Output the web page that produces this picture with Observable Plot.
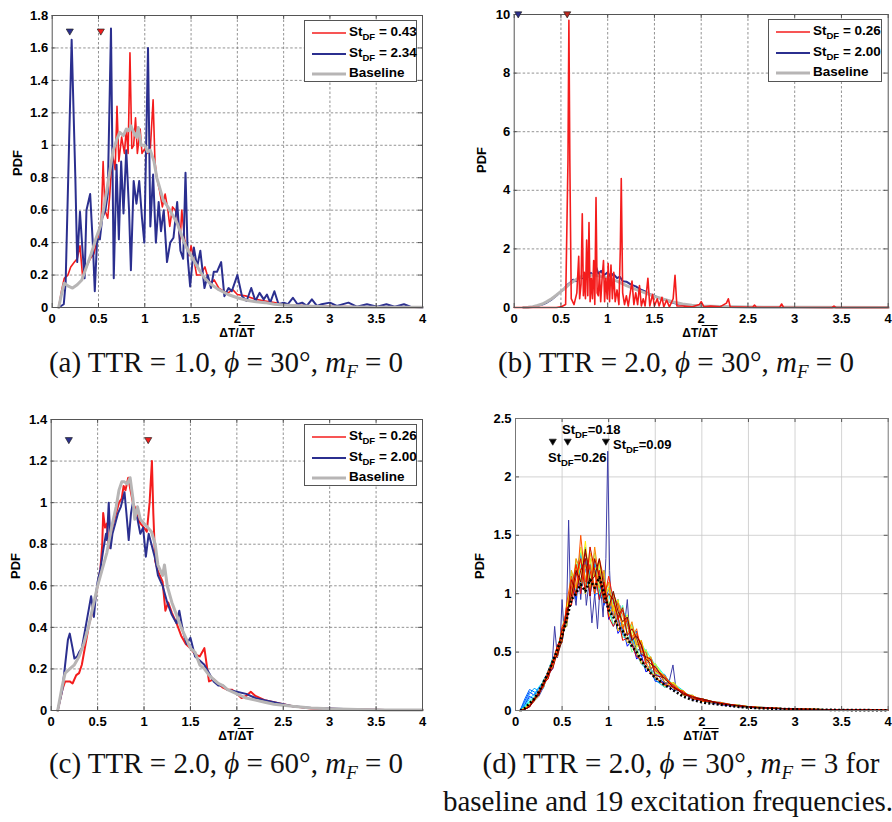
<!DOCTYPE html>
<html>
<head>
<meta charset="utf-8">
<script src="https://cdn.jsdelivr.net/npm/d3@7"></script>
<script src="https://cdn.jsdelivr.net/npm/@observablehq/plot@0.6"></script>
<style>
  html, body { margin: 0; padding: 0; background: #fff; }
  #wrap { position: relative; width: 892px; height: 822px; overflow: hidden; background: #fff; }
  .pnl { position: absolute; }
  .ov { position: absolute; font-family: "Liberation Sans", Arial, sans-serif; font-weight: bold; color: #000; white-space: nowrap; }
  .ylab { font-size: 13px; transform: translate(-50%, -50%) rotate(-90deg); }
  .xlab { font-size: 12px; transform: translate(-50%, -50%); }
  .ol { text-decoration: overline; }
  .leg { position: absolute; border: 1px solid #555; background: #fff; box-sizing: border-box; }
  .row { position: absolute; left: 0; height: 20px; width: 100%; }
  .row svg { position: absolute; left: 7px; top: 8px; }
  .row .t { position: absolute; left: 44px; top: 0; font-family: "Liberation Sans", Arial, sans-serif; font-weight: bold; font-size: 13.5px; line-height: 20px; white-space: nowrap; }
  sub { font-size: 9.5px; vertical-align: -4px; line-height: 0; }
  .cap { position: absolute; font-family: "Liberation Serif", "Times New Roman", serif; font-size: 29px; color: #111; white-space: nowrap; transform: translate(-50%, -50%); }
  .cap sub { font-size: 19px; vertical-align: -6px; }
  .ann { position: absolute; font-family: "Liberation Sans", Arial, sans-serif; font-weight: bold; font-size: 13px; white-space: nowrap; }
  .ann sub { font-size: 9.5px; vertical-align: -4px; }
</style>
</head>
<body>
<div id="wrap"></div>
<script>
// ---------------- data ----------------
const xTicks = [0, 0.5, 1, 1.5, 2, 2.5, 3, 3.5, 4];
const aYTicks = [0, 0.2, 0.4, 0.6, 0.8, 1, 1.2, 1.4, 1.6, 1.8];
const bYTicks = [0, 2, 4, 6, 8, 10];
const cYTicks = [0, 0.2, 0.4, 0.6, 0.8, 1, 1.2, 1.4];
const dYTicks = [0, 0.5, 1, 1.5, 2, 2.5];

// (a) TTR = 1.0, phi = 30
const aRed = [[0.07,0],[0.1,0.1],[0.13,0.18],[0.17,0.2],[0.2,0.25],[0.24,0.28],[0.27,0.3],[0.3,0.38],[0.33,0.18],[0.37,0.25],[0.41,0.3],[0.45,0.33],[0.5,0.45],[0.53,0.55],[0.55,0.9],[0.57,0.6],[0.6,0.55],[0.62,0.68],[0.65,0.95],[0.68,0.85],[0.7,1.24],[0.72,0.9],[0.75,1.05],[0.78,0.95],[0.8,1.1],[0.82,0.95],[0.84,1.57],[0.86,0.98],[0.88,1.0],[0.9,1.17],[0.92,0.95],[0.95,1.1],[0.97,0.95],[1.0,0.98],[1.03,0.95],[1.06,0.98],[1.09,1.28],[1.11,0.9],[1.13,0.8],[1.16,0.72],[1.19,0.62],[1.22,0.7],[1.25,0.6],[1.27,0.5],[1.3,0.62],[1.33,0.6],[1.36,0.55],[1.38,0.4],[1.4,0.6],[1.43,0.42],[1.45,0.38],[1.48,0.32],[1.5,0.38],[1.53,0.3],[1.56,0.2],[1.6,0.2],[1.65,0.25],[1.7,0.15],[1.75,0.17],[1.8,0.12],[1.85,0.1],[1.9,0.09],[1.95,0.11],[2.0,0.08],[2.1,0.07],[2.2,0.05],[2.3,0.04],[2.4,0.03],[2.5,0.02],[2.6,0.015],[2.8,0.01],[3.0,0.008],[3.3,0.005],[3.6,0.003],[4.0,0.001]];
const aBlue = [[0.07,0],[0.125,0.02],[0.145,0.15],[0.21,1.65],[0.25,0.8],[0.27,0.28],[0.3,0.59],[0.33,0.33],[0.35,0.18],[0.37,0.6],[0.41,0.7],[0.44,0.38],[0.46,0.1],[0.485,0.42],[0.515,0.42],[0.54,0.55],[0.575,0.6],[0.6,0.7],[0.635,1.72],[0.665,0.18],[0.695,0.88],[0.72,0.42],[0.745,0.9],[0.77,0.58],[0.8,0.97],[0.83,0.6],[0.85,0.23],[0.88,0.78],[0.91,0.64],[0.94,0.78],[0.97,0.55],[0.995,0.4],[1.035,1.6],[1.06,0.5],[1.09,0.82],[1.12,0.4],[1.15,0.65],[1.175,0.47],[1.205,0.6],[1.24,0.28],[1.275,0.4],[1.31,0.43],[1.35,0.65],[1.385,0.35],[1.415,0.3],[1.44,0.83],[1.465,0.3],[1.49,0.13],[1.53,0.37],[1.565,0.25],[1.6,0.35],[1.645,0.12],[1.68,0.2],[1.715,0.12],[1.745,0.22],[1.78,0.22],[1.825,0.28],[1.86,0.07],[1.905,0.12],[1.94,0.1],[2.0,0.2],[2.05,0.07],[2.1,0.04],[2.15,0.12],[2.195,0.04],[2.24,0.09],[2.285,0.05],[2.32,0.08],[2.355,0.03],[2.4,0.1],[2.445,0.02],[2.5,0.03],[2.545,0.02],[2.6,0.06],[2.65,0.02],[2.7,0.03],[2.75,0.01],[2.805,0.05],[2.86,0.01],[2.91,0.02],[3.0,0.03],[3.075,0.01],[3.2,0.03],[3.29,0.005],[3.4,0.02],[3.51,0.005],[3.61,0.02],[3.7,0.005],[3.8,0.02],[3.87,0.005],[4.0,0]];
const aBase = [[0.07,0],[0.1,0.08],[0.13,0.15],[0.18,0.13],[0.22,0.12],[0.27,0.14],[0.32,0.17],[0.37,0.25],[0.42,0.33],[0.47,0.42],[0.52,0.5],[0.56,0.62],[0.6,0.76],[0.63,0.87],[0.66,0.97],[0.7,1.04],[0.73,1.08],[0.77,1.06],[0.8,1.1],[0.83,1.09],[0.85,1.12],[0.88,1.08],[0.91,1.05],[0.93,1.11],[0.96,1.0],[1.0,1.0],[1.03,0.96],[1.06,0.97],[1.1,0.9],[1.13,0.8],[1.17,0.72],[1.2,0.66],[1.25,0.62],[1.3,0.57],[1.35,0.52],[1.4,0.44],[1.45,0.37],[1.5,0.32],[1.55,0.27],[1.6,0.22],[1.65,0.18],[1.7,0.15],[1.8,0.11],[1.9,0.08],[2.0,0.06],[2.1,0.045],[2.2,0.035],[2.3,0.03],[2.4,0.02],[2.5,0.015],[2.7,0.01],[3.0,0.005],[3.5,0.002],[4.0,0.001]];
const aTriBlue = [[0.19, 1.70]];
const aTriRed = [[0.525, 1.70]];

// (b) TTR = 2.0, phi = 30
const bRed = [[0,0],[0.45,0],[0.5,0.02],[0.55,0.1],[0.575,5],[0.585,9.8],[0.595,5],[0.61,0.3],[0.64,0.1],[0.67,0.5],[0.69,1.75],[0.7,0.3],[0.715,0.8],[0.728,3.2],[0.74,0.4],[0.75,1.2],[0.762,0.3],[0.775,2.3],[0.787,0.4],[0.8,2.9],[0.812,0.2],[0.825,1.0],[0.837,0.3],[0.85,1.6],[0.862,0.1],[0.875,3.75],[0.887,0.5],[0.9,0.4],[0.912,1.2],[0.925,0.2],[0.94,1.0],[0.955,1.6],[0.967,0.2],[0.98,1.0],[0.995,0.3],[1.005,1.5],[1.02,0.2],[1.035,1.45],[1.05,0.3],[1.065,1.2],[1.08,0.2],[1.1,0.6],[1.12,0.1],[1.135,2.0],[1.145,4.4],[1.16,0.5],[1.18,0.1],[1.2,0.4],[1.22,0.05],[1.26,0.9],[1.28,0.1],[1.3,0.5],[1.32,0.1],[1.34,0.75],[1.36,0.05],[1.38,0.3],[1.4,0.05],[1.43,1.0],[1.45,0.05],[1.48,0.45],[1.5,0.05],[1.53,0.3],[1.55,0.05],[1.58,0.35],[1.6,0.02],[1.63,0.25],[1.66,0.02],[1.7,0.3],[1.72,1.1],[1.74,0.05],[1.8,0.05],[1.9,0.02],[1.98,0.1],[2.0,0.2],[2.03,0.02],[2.1,0.05],[2.2,0.02],[2.27,0.15],[2.29,0.3],[2.31,0.02],[2.55,0.01],[2.57,0.08],[2.59,0.01],[2.84,0.01],[2.86,0.12],[2.88,0.01],[3.4,0],[3.42,0.05],[3.44,0],[4,0]];
const bBlue = [[0.1,0],[0.15,0.01],[0.2,0.03],[0.25,0.06],[0.3,0.1],[0.35,0.17],[0.4,0.27],[0.45,0.4],[0.5,0.55],[0.53,0.62],[0.56,0.75],[0.6,0.85],[0.63,0.95],[0.66,0.9],[0.7,1.05],[0.73,1.0],[0.76,1.12],[0.79,1.05],[0.82,1.18],[0.85,1.1],[0.88,1.35],[0.9,1.15],[0.93,1.25],[0.96,1.1],[1.0,1.2],[1.03,1.05],[1.06,1.15],[1.1,1.0],[1.13,1.05],[1.16,0.9],[1.2,0.88],[1.25,0.78],[1.3,0.72],[1.35,0.62],[1.4,0.55],[1.45,0.45],[1.5,0.4],[1.55,0.32],[1.6,0.27],[1.65,0.22],[1.7,0.16],[1.75,0.12],[1.8,0.09],[1.9,0.06],[2.0,0.04],[2.1,0.03],[2.3,0.02],[2.6,0.01],[3,0.005],[4,0]];
const bBase = [[0.1,0],[0.15,0.01],[0.2,0.03],[0.25,0.07],[0.3,0.12],[0.35,0.2],[0.4,0.3],[0.45,0.42],[0.5,0.55],[0.55,0.68],[0.6,0.82],[0.65,0.93],[0.7,1.02],[0.75,1.1],[0.8,1.08],[0.85,1.12],[0.9,1.08],[0.95,1.05],[1.0,1.0],[1.05,0.95],[1.1,0.9],[1.15,0.82],[1.2,0.75],[1.3,0.62],[1.4,0.5],[1.5,0.38],[1.6,0.28],[1.7,0.19],[1.8,0.12],[1.9,0.08],[2.0,0.05],[2.2,0.03],[2.5,0.015],[3,0.005],[4,0]];
const bTriBlue = [[0.043, 10]];
const bTriRed = [[0.567, 10]];

// (c) TTR = 2.0, phi = 60
const cRed = [[0.07,0],[0.12,0.1],[0.15,0.14],[0.2,0.14],[0.23,0.13],[0.27,0.17],[0.3,0.18],[0.33,0.22],[0.37,0.32],[0.41,0.42],[0.45,0.48],[0.5,0.6],[0.53,0.68],[0.55,0.8],[0.56,0.95],[0.58,0.88],[0.6,0.9],[0.62,0.78],[0.65,0.86],[0.67,0.9],[0.7,0.95],[0.73,1.0],[0.76,1.02],[0.78,1.08],[0.8,1.06],[0.83,1.12],[0.85,1.07],[0.88,1.0],[0.9,0.98],[0.93,0.93],[0.96,0.9],[1.0,0.88],[1.03,0.86],[1.06,1.0],[1.085,1.2],[1.1,0.95],[1.12,0.72],[1.15,0.67],[1.2,0.62],[1.23,0.48],[1.26,0.52],[1.3,0.47],[1.35,0.42],[1.4,0.36],[1.45,0.32],[1.5,0.3],[1.55,0.27],[1.6,0.26],[1.65,0.3],[1.7,0.14],[1.75,0.15],[1.8,0.13],[1.85,0.11],[1.9,0.1],[1.95,0.1],[2.0,0.08],[2.05,0.06],[2.1,0.07],[2.15,0.09],[2.2,0.07],[2.3,0.05],[2.4,0.04],[2.5,0.03],[2.6,0.02],[2.8,0.01],[3.0,0.008],[3.3,0.005],[3.6,0.003],[4,0.002]];
const cBlue = [[0.07,0],[0.12,0.1],[0.15,0.22],[0.18,0.34],[0.2,0.37],[0.23,0.3],[0.25,0.25],[0.28,0.26],[0.3,0.28],[0.33,0.3],[0.37,0.4],[0.41,0.5],[0.43,0.55],[0.46,0.45],[0.48,0.55],[0.5,0.62],[0.53,0.68],[0.56,0.77],[0.59,0.85],[0.6,0.82],[0.62,1.0],[0.64,0.78],[0.66,0.85],[0.69,0.9],[0.72,0.95],[0.75,0.98],[0.79,1.05],[0.81,0.95],[0.835,0.82],[0.86,0.95],[0.88,1.0],[0.9,0.96],[0.93,0.92],[0.96,0.85],[0.99,0.88],[1.02,0.74],[1.05,0.85],[1.08,0.8],[1.12,0.73],[1.15,0.65],[1.2,0.6],[1.25,0.52],[1.3,0.46],[1.35,0.42],[1.38,0.48],[1.42,0.38],[1.46,0.32],[1.5,0.35],[1.55,0.26],[1.6,0.24],[1.65,0.22],[1.7,0.18],[1.75,0.14],[1.8,0.12],[1.85,0.12],[1.9,0.1],[2.0,0.09],[2.1,0.08],[2.2,0.06],[2.3,0.05],[2.4,0.04],[2.5,0.03],[2.6,0.02],[2.8,0.012],[3.0,0.01],[3.3,0.005],[3.6,0.003],[4,0.002]];
const cBase = [[0.07,0],[0.12,0.12],[0.15,0.18],[0.2,0.2],[0.25,0.22],[0.3,0.26],[0.35,0.32],[0.4,0.4],[0.45,0.5],[0.5,0.6],[0.55,0.68],[0.6,0.76],[0.65,0.88],[0.7,0.98],[0.73,1.06],[0.76,1.1],[0.79,1.1],[0.82,1.09],[0.85,1.12],[0.88,1.02],[0.9,0.92],[0.93,0.98],[0.96,0.92],[1.0,0.9],[1.04,0.88],[1.08,0.86],[1.12,0.8],[1.15,0.7],[1.2,0.65],[1.22,0.7],[1.25,0.6],[1.3,0.52],[1.35,0.46],[1.4,0.4],[1.45,0.35],[1.5,0.3],[1.55,0.28],[1.6,0.22],[1.65,0.2],[1.7,0.17],[1.75,0.15],[1.8,0.13],[1.85,0.12],[1.9,0.1],[2.0,0.08],[2.1,0.06],[2.2,0.05],[2.3,0.04],[2.4,0.03],[2.5,0.025],[2.6,0.02],[2.8,0.012],[3.0,0.008],[3.3,0.005],[3.6,0.003],[4,0.002]];
const cTriBlue = [[0.19, 1.30]];
const cTriRed = [[1.045, 1.30]];

// (d) TTR = 2.0, phi = 30, mF = 3 : baseline + 19 excitation frequencies
const dX = [0.05,0.1,0.15,0.2,0.25,0.3,0.35,0.4,0.45,0.5,0.55,0.6,0.65,0.7,0.75,0.8,0.85,0.9,0.95,1.0,1.05,1.1,1.15,1.2,1.25,1.3,1.35,1.4,1.45,1.5,1.6,1.7,1.8,1.9,2.0,2.2,2.4,2.6,3.0,3.5,4.0];
const dBaseline = [0,0.02,0.06,0.1,0.16,0.24,0.32,0.42,0.52,0.64,0.78,0.95,1.0,1.08,1.02,1.12,1.05,1.14,1.0,0.86,0.8,0.72,0.68,0.62,0.55,0.5,0.43,0.37,0.32,0.28,0.22,0.17,0.12,0.09,0.07,0.05,0.03,0.02,0.01,0.004,0.002];
const dSpiky = [[0.05,0],[0.1,0.03],[0.15,0.05],[0.2,0.08],[0.25,0.12],[0.3,0.2],[0.35,0.3],[0.39,0.35],[0.42,0.72],[0.45,0.45],[0.48,0.6],[0.5,0.95],[0.52,0.7],[0.55,0.9],[0.57,1.63],[0.59,0.95],[0.62,1.05],[0.65,0.9],[0.68,1.2],[0.7,0.95],[0.73,1.3],[0.76,0.9],[0.79,1.1],[0.82,0.75],[0.85,1.0],[0.88,0.7],[0.91,1.1],[0.94,0.8],[0.97,1.3],[0.99,2.22],[1.01,1.2],[1.03,0.85],[1.06,0.95],[1.09,0.7],[1.12,0.9],[1.15,0.65],[1.18,0.8],[1.2,0.95],[1.23,0.6],[1.27,0.62],[1.3,0.5],[1.35,0.55],[1.4,0.4],[1.45,0.35],[1.5,0.32],[1.55,0.28],[1.6,0.22],[1.65,0.25],[1.69,0.39],[1.72,0.2],[1.8,0.15],[1.9,0.1],[2.0,0.08],[2.2,0.05],[2.4,0.03],[2.6,0.02],[3.0,0.01],[3.5,0.005],[4.0,0.002]];
const dS02 = [0,0.05,0.12,0.1,0.16,0.2,0.32,0.36,0.55,0.58,0.9,0.95,1.2,1.0,1.3,0.98,1.25,0.95,1.15,0.78,0.88,0.66,0.72,0.55,0.6,0.44,0.48,0.33,0.36,0.25,0.24,0.17,0.17,0.09,0.1,0.05,0.045,0.02,0.013,0.005,0.003];
const dS03 = [0,0.08,0.16,0.13,0.19,0.24,0.27,0.44,0.46,0.7,0.72,1.15,0.95,1.35,1.02,1.25,0.98,1.2,0.9,1.05,0.8,0.95,0.7,0.8,0.58,0.68,0.46,0.52,0.35,0.4,0.24,0.23,0.13,0.13,0.08,0.07,0.035,0.03,0.011,0.007,0.002];
const dS04 = [0,0.1,0.18,0.16,0.13,0.26,0.33,0.37,0.56,0.6,0.86,0.9,1.25,1.05,1.2,1.3,1.0,1.0,1.2,0.82,0.98,0.78,0.72,0.78,0.6,0.56,0.58,0.42,0.44,0.3,0.31,0.18,0.16,0.1,0.1,0.055,0.045,0.022,0.014,0.005,0.003];
const dS05 = [0,0.06,0.14,0.19,0.17,0.19,0.34,0.45,0.47,0.68,0.75,1.2,1.0,1.1,1.4,1.05,1.3,0.95,1.05,0.9,0.72,0.8,0.66,0.58,0.62,0.48,0.4,0.36,0.34,0.26,0.2,0.22,0.14,0.12,0.08,0.065,0.035,0.028,0.01,0.007,0.002];
const dS06 = [0,0.04,0.1,0.14,0.2,0.25,0.28,0.43,0.54,0.58,0.88,0.95,1.2,1.35,1.0,1.2,1.25,1.0,0.95,1.05,0.98,0.78,0.85,0.8,0.58,0.64,0.56,0.42,0.46,0.38,0.24,0.23,0.17,0.1,0.1,0.06,0.045,0.02,0.014,0.005,0.003];
const dS07 = [0,0.03,0.08,0.12,0.14,0.26,0.32,0.38,0.52,0.7,0.76,1.15,1.0,1.25,1.3,1.05,1.2,1.25,0.92,1.0,0.85,0.95,0.72,0.75,0.7,0.55,0.58,0.5,0.36,0.4,0.3,0.18,0.16,0.12,0.08,0.065,0.035,0.028,0.011,0.007,0.002];
const dS08 = [0,0.03,0.07,0.11,0.17,0.2,0.34,0.44,0.48,0.6,0.9,1.0,1.25,1.1,1.35,1.2,1.0,1.2,1.15,0.88,1.02,0.8,0.9,0.66,0.74,0.62,0.48,0.52,0.45,0.33,0.29,0.22,0.14,0.12,0.1,0.055,0.045,0.022,0.013,0.006,0.003];
const dS09 = [0,0.02,0.06,0.09,0.16,0.24,0.28,0.42,0.55,0.66,0.74,1.18,1.05,1.2,1.05,1.4,1.18,1.0,1.1,0.85,0.74,0.8,0.62,0.66,0.5,0.54,0.42,0.36,0.36,0.28,0.2,0.24,0.15,0.11,0.09,0.065,0.04,0.026,0.012,0.006,0.003];
const dS10 = [0,0.02,0.05,0.1,0.14,0.23,0.33,0.38,0.5,0.72,0.82,0.98,1.3,1.05,1.25,1.1,1.35,1.05,0.95,1.1,0.88,0.8,0.88,0.7,0.72,0.58,0.6,0.46,0.42,0.4,0.28,0.19,0.17,0.1,0.1,0.06,0.04,0.025,0.013,0.006,0.003];
const dS11 = [0,0.02,0.05,0.09,0.16,0.2,0.31,0.43,0.47,0.64,0.86,1.1,1.0,1.4,1.12,1.3,1.0,1.25,1.08,0.9,1.0,0.82,0.75,0.82,0.64,0.66,0.5,0.52,0.38,0.4,0.26,0.23,0.14,0.13,0.08,0.065,0.035,0.027,0.011,0.007,0.002];
const dS12 = [0,0.02,0.04,0.08,0.13,0.24,0.29,0.4,0.54,0.6,0.9,1.0,1.22,1.1,1.45,1.05,1.2,1.28,0.95,1.05,0.85,0.95,0.72,0.78,0.7,0.54,0.6,0.44,0.46,0.32,0.3,0.19,0.17,0.1,0.1,0.055,0.045,0.023,0.013,0.006,0.003];
const dS13 = [0,0.02,0.05,0.1,0.15,0.21,0.33,0.37,0.52,0.68,0.72,1.2,1.05,1.3,1.0,1.35,1.15,1.05,1.2,0.8,0.9,0.68,0.74,0.58,0.6,0.5,0.4,0.42,0.32,0.3,0.21,0.24,0.13,0.13,0.08,0.07,0.035,0.03,0.011,0.007,0.002];
const dS14 = [0,0.01,0.05,0.08,0.17,0.22,0.28,0.44,0.46,0.7,0.85,0.92,1.3,1.2,1.25,1.0,1.4,1.1,1.0,1.1,0.8,0.92,0.82,0.65,0.76,0.56,0.6,0.42,0.46,0.35,0.3,0.18,0.17,0.1,0.1,0.06,0.045,0.022,0.014,0.005,0.003];
const dS15 = [0,0.01,0.04,0.11,0.13,0.25,0.32,0.4,0.55,0.58,0.92,1.15,0.98,1.5,1.1,1.25,1.05,1.3,1.12,0.85,1.0,0.9,0.7,0.8,0.62,0.7,0.5,0.5,0.36,0.38,0.24,0.22,0.15,0.12,0.08,0.065,0.035,0.028,0.01,0.007,0.002];
const dS16 = [0,0.01,0.04,0.09,0.15,0.2,0.34,0.42,0.48,0.72,0.78,1.05,1.25,1.0,1.35,1.2,1.0,1.2,0.95,1.15,0.95,0.78,0.86,0.74,0.6,0.66,0.56,0.4,0.44,0.34,0.29,0.21,0.14,0.12,0.1,0.055,0.04,0.026,0.013,0.006,0.003];
const dS17 = [0,0.01,0.03,0.1,0.14,0.23,0.27,0.41,0.56,0.62,0.88,0.9,1.15,1.3,1.02,1.4,1.2,0.95,1.1,0.8,0.72,0.8,0.6,0.62,0.56,0.46,0.44,0.38,0.32,0.28,0.22,0.2,0.16,0.1,0.09,0.065,0.04,0.024,0.012,0.006,0.003];
const dS18 = [0,0.01,0.03,0.08,0.16,0.21,0.31,0.36,0.5,0.7,0.76,1.12,1.0,1.2,1.3,0.98,1.3,1.15,0.92,1.0,0.95,0.8,0.88,0.64,0.7,0.62,0.48,0.46,0.44,0.3,0.28,0.19,0.15,0.12,0.09,0.06,0.04,0.025,0.012,0.006,0.003];
const dS19 = [0,0.01,0.03,0.1,0.13,0.24,0.3,0.43,0.47,0.6,0.84,0.98,1.2,1.1,1.38,1.1,1.15,1.3,1.05,0.88,1.02,0.85,0.76,0.8,0.6,0.64,0.56,0.44,0.4,0.37,0.27,0.2,0.14,0.11,0.1,0.06,0.04,0.024,0.012,0.006,0.003];
const dTris = [[0.40, 2.30], [0.56, 2.30], [0.97, 2.30]];

// ---------------- drawing ----------------
const RED = "#f41c1c", BLUE = "#2b2f8f", GRAY = "#b7b5b5";
const triDown = { draw(ctx, size) { const s = Math.sqrt(size / 3.2); ctx.moveTo(-s, -s * 0.75); ctx.lineTo(s, -s * 0.75); ctx.lineTo(0, s * 0.95); ctx.closePath(); } };
function jet(t) {
  const c = v => Math.round(255 * Math.max(0, Math.min(1, v)));
  return `rgb(${c(1.5 - Math.abs(4 * t - 3))},${c(1.5 - Math.abs(4 * t - 2))},${c(1.5 - Math.abs(4 * t - 1))})`;
}
const wrap = document.getElementById("wrap");

function panel(cfg) {
  const pw = cfg.w - cfg.ml - cfg.mr, ph = cfg.h - cfg.mt - cfg.mb;
  const tkY = cfg.ymax * 4 / ph, tkX = 4 * 4 / pw;
  const gridOpt = { stroke: cfg.grid, strokeOpacity: 1, strokeWidth: cfg.gridW, strokeDasharray: cfg.dash };
  const marks = [
    Plot.gridX(xTicks.slice(1, -1), gridOpt),
    Plot.gridY(cfg.yTicks.slice(1, -1), gridOpt),
    Plot.axisX(xTicks, { tickSize: 0, tickPadding: 6, tickFormat: d => String(d), label: null }),
    Plot.axisY(cfg.yTicks, { tickSize: 0, tickPadding: 4, tickFormat: d => String(d), label: null }),
    ...cfg.lines.map(L => Plot.line(L.data, { x: d => d[0], y: d => d[1], stroke: L.color, strokeWidth: L.width, strokeDasharray: L.dash, strokeLinecap: L.dash ? "butt" : "round", strokeLinejoin: "round", curve: "linear" })),
    Plot.ruleX(xTicks, { y1: 0, y2: tkY, stroke: "#333", strokeWidth: 0.8 }),
    Plot.ruleX(xTicks, { y1: cfg.ymax, y2: cfg.ymax - tkY, stroke: "#333", strokeWidth: 0.8 }),
    Plot.ruleY(cfg.yTicks, { x1: 0, x2: tkX, stroke: "#333", strokeWidth: 0.8 }),
    Plot.ruleY(cfg.yTicks, { x1: 4, x2: 4 - tkX, stroke: "#333", strokeWidth: 0.8 }),
    Plot.frame({ stroke: cfg.frame, strokeWidth: 1 }),
    ...cfg.tris.map(T => Plot.dot(T.data, { x: d => d[0], y: d => d[1], fill: T.color, stroke: "#222", strokeWidth: 0.7, symbol: triDown, r: 3.6 }))
  ];
  const svg = Plot.plot({
    width: cfg.w, height: cfg.h,
    marginLeft: cfg.ml, marginRight: cfg.mr, marginTop: cfg.mt, marginBottom: cfg.mb,
    x: { domain: [0, 4], label: null },
    y: { domain: [0, cfg.ymax], label: null },
    style: { fontFamily: "'Liberation Sans', Arial, sans-serif", fontSize: "13px", fontWeight: "bold", color: "#000", background: "transparent", overflow: "visible" },
    marks
  });
  svg.classList.add("pnl");
  svg.style.left = cfg.left + "px";
  svg.style.top = cfg.top + "px";
  wrap.appendChild(svg);
}

const dashed = { grid: "#777", gridW: 0.8, dash: "2.5,2", frame: "#555" };

panel({ left: 0, top: 0, w: 446, h: 340, ml: 51.7, mr: 24, mt: 15, mb: 33, ymax: 1.8, yTicks: aYTicks, ...dashed,
  lines: [ { data: aRed, color: RED, width: 1.6 }, { data: aBlue, color: BLUE, width: 2 }, { data: aBase, color: GRAY, width: 3 } ],
  tris: [ { data: aTriBlue, color: BLUE }, { data: aTriRed, color: RED } ] });

panel({ left: 446, top: 0, w: 446, h: 340, ml: 67.7, mr: 4.3, mt: 14, mb: 33, ymax: 10, yTicks: bYTicks, ...dashed,
  lines: [ { data: bBlue, color: BLUE, width: 2 }, { data: bBase, color: GRAY, width: 3 }, { data: bRed, color: RED, width: 1.6 } ],
  tris: [ { data: bTriBlue, color: BLUE }, { data: bTriRed, color: "#c0281e" } ] });

panel({ left: 0, top: 400, w: 446, h: 340, ml: 50.7, mr: 24, mt: 19, mb: 30, ymax: 1.4, yTicks: cYTicks, ...dashed,
  lines: [ { data: cRed, color: RED, width: 2 }, { data: cBlue, color: BLUE, width: 2 }, { data: cBase, color: GRAY, width: 3 } ],
  tris: [ { data: cTriBlue, color: BLUE }, { data: cTriRed, color: RED } ] });

const dSeries = [dS02, dS03, dS04, dS05, dS06, dS07, dS08, dS09, dS10, dS11, dS12, dS13, dS14, dS15, dS16, dS17, dS18, dS19];
const dLines = [ { data: dSpiky, color: "#3c3ca8", width: 1 } ];
dSeries.forEach((s, i) => dLines.push({ data: dX.map((x, j) => [x, s[j]]), color: jet(0.08 + 0.92 * (i + 1) / dSeries.length), width: 1 }));
dLines.push({ data: dX.map((x, j) => [x, dBaseline[j]]), color: "#000", width: 2.6, dash: "2,2.2" });
panel({ left: 446, top: 400, w: 446, h: 340, ml: 69, mr: 4.3, mt: 18, mb: 30, ymax: 2.5, yTicks: dYTicks,
  grid: "#c8c8c8", gridW: 0.8, dash: null, frame: "#777",
  lines: dLines, tris: [ { data: dTris, color: "#000" } ] });

// ---------------- HTML text overlays ----------------
function ov(html, cls, x, y) { const e = document.createElement("div"); e.className = cls; e.innerHTML = html; e.style.left = x + "px"; e.style.top = y + "px"; wrap.appendChild(e); return e; }
const xl = 'ΔT/<span class="ol">ΔT</span>';
[[17,163],[481,160],[15,566],[479,566]].forEach(([x,y]) => ov("PDF", "ov ylab", x, y));
[[237,333],[700,333],[236,736],[701,736]].forEach(([x,y]) => ov(xl, "ov xlab", x, y));

function legend(x, y, w, h, items) {
  const box = document.createElement("div"); box.className = "leg";
  Object.assign(box.style, { left: x + "px", top: y + "px", width: w + "px", height: h + "px" });
  items.forEach((it, i) => {
    const r = document.createElement("div"); r.className = "row"; r.style.top = (1 + i * 20.5) + "px";
    r.innerHTML = `<svg width="34" height="6"><line x1="0" y1="3" x2="34" y2="3" stroke="${it.color}" stroke-width="${it.width}"/></svg><span class="t">${it.label}</span>`;
    box.appendChild(r);
  });
  wrap.appendChild(box);
}
legend(304, 20, 113, 62, [ { color: RED, width: 1.6, label: "St<sub>DF</sub> = 0.43" }, { color: BLUE, width: 2, label: "St<sub>DF</sub> = 2.34" }, { color: GRAY, width: 3, label: "Baseline" } ]);
legend(768, 19, 114, 63, [ { color: RED, width: 1.6, label: "St<sub>DF</sub> = 0.26" }, { color: BLUE, width: 2, label: "St<sub>DF</sub> = 2.00" }, { color: GRAY, width: 3, label: "Baseline" } ]);
legend(304, 424, 113, 62, [ { color: RED, width: 1.6, label: "St<sub>DF</sub> = 0.26" }, { color: BLUE, width: 2, label: "St<sub>DF</sub> = 2.00" }, { color: GRAY, width: 3, label: "Baseline" } ]);

ov("St<sub>DF</sub>=0.18", "ann", 562, 422);
ov("St<sub>DF</sub>=0.26", "ann", 548, 450);
ov("St<sub>DF</sub>=0.09", "ann", 613, 437);

ov('(a) TTR = 1.0, <i>ϕ</i> = 30°, <i>m<sub>F</sub></i> = 0', "cap", 226, 362);
ov('(b) TTR = 2.0, <i>ϕ</i> = 30°, <i>m<sub>F</sub></i> = 0', "cap", 676, 362);
ov('(c) TTR = 2.0, <i>ϕ</i> = 60°, <i>m<sub>F</sub></i> = 0', "cap", 226, 763);
ov('(d) TTR = 2.0, <i>ϕ</i> = 30°, <i>m<sub>F</sub></i> = 3 for', "cap", 681, 763);
ov('baseline and 19 excitation frequencies.', "cap", 668, 801);
</script>
</body>
</html>
